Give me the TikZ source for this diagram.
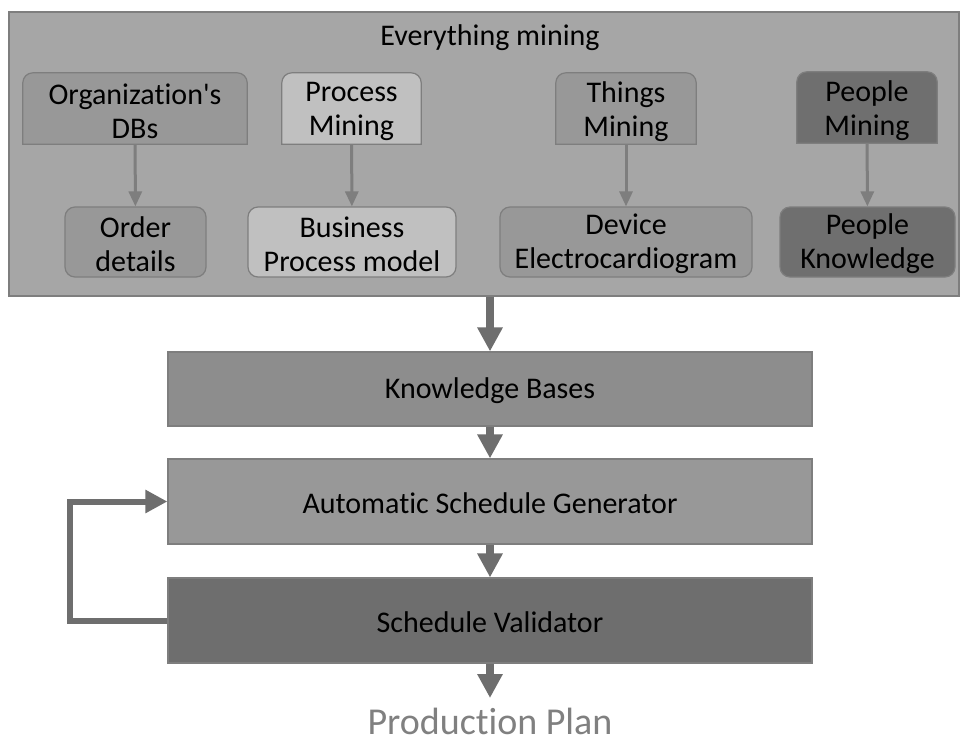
\documentclass[tikz,border=0pt]{standalone}
\usepackage{fontspec}
\setmainfont{Carlito}[Ligatures={NoCommon}]
\usetikzlibrary{arrows.meta}
\definecolor{outerfill}{HTML}{A6A6A6}
\definecolor{midfill}{HTML}{989898}
\definecolor{lightfill}{HTML}{C0C0C0}
\definecolor{darkfill}{HTML}{6F6F6F}
\definecolor{kbfill}{HTML}{8D8D8D}
\definecolor{genfill}{HTML}{989898}
\definecolor{valfill}{HTML}{6E6E6E}
\definecolor{edge}{HTML}{7E7E7E}
\definecolor{arrowgray}{HTML}{6E6E6E}
\definecolor{plangray}{HTML}{808080}
\tikzset{
  txt/.style={font=\fontsize{30}{34}\selectfont, align=center, inner sep=0pt, text=black},
  roundbox/.style={txt, draw=edge, line width=1.2pt, rounded corners=10pt},
  wide/.style={txt, draw=edge, line width=1.2pt, minimum width=644pt},
  thin/.style={draw=edge, line width=3pt, -{Triangle[length=15pt,width=13pt]}},
  thick/.style={draw=arrowgray, line width=8pt, -{Triangle[length=24pt,width=24pt]}},
  loop/.style={draw=arrowgray, line width=6pt, -{Triangle[length=22pt,width=22pt]}}
}
\newcommand{\topshape}[2]{%
  \path[fill=#2, draw=edge, line width=1.2pt] (#1.south west) [rounded corners=10pt] -- (#1.north west) -- (#1.north east) [sharp corners] -- (#1.south east) -- cycle;}
\begin{document}
\begin{tikzpicture}[x=1pt,y=-1pt]
\useasboundingbox (0,0) rectangle (960,745);
\fill[white] (0,0) rectangle (960,745);
% outer container
\node[draw=edge, fill=outerfill, line width=1.2pt, minimum width=950pt, minimum height=284pt, inner sep=0pt] (outer) at (484,154) {};
\node[txt] (title) at (490,38) {Everything mining};
% top boxes (top-rounded)
\path (135,108.5) node[minimum width=224pt, minimum height=71pt, inner sep=0pt] (org) {};
\path (351.5,108.5) node[minimum width=139pt, minimum height=71pt, inner sep=0pt] (pm) {};
\path (626,108.5) node[minimum width=140pt, minimum height=71pt, inner sep=0pt] (tm) {};
\path (867,107.5) node[minimum width=140pt, minimum height=71pt, inner sep=0pt] (peo) {};
\topshape{org}{midfill}
\topshape{pm}{lightfill}
\topshape{tm}{midfill}
\topshape{peo}{darkfill}
\node[txt, yshift=-3pt] at (org) {Organization\textquotesingle s\\DBs};
\node[txt, yshift=-3pt] at (pm) {Process\\Mining};
\node[txt, yshift=-3pt] at (tm) {Things\\Mining};
\node[txt, yshift=-3pt] at (peo) {People\\Mining};
% second row
\node[roundbox, fill=midfill, minimum width=141pt, minimum height=70pt] (od) at (135.5,242) {};
\node[roundbox, fill=lightfill, minimum width=208pt, minimum height=70pt] (bpm) at (352,242) {};
\node[roundbox, fill=midfill, minimum width=252pt, minimum height=70pt] (dev) at (626,242) {};
\node[roundbox, fill=darkfill, minimum width=175pt, minimum height=70pt] (pk) at (867.5,242) {};
\node[txt, yshift=-2pt] at (od) {Order\\details};
\node[txt, yshift=-2pt] at (bpm) {Business\\Process model};
\node[txt, yshift=-2pt] at (dev) {Device\\Electrocardiogram};
\node[txt, yshift=-2pt] at (pk) {People\\Knowledge};
\draw[thin] (org) -- (od);
\draw[thin] (pm) -- (bpm);
\draw[thin] (tm) -- (dev);
\draw[thin] (peo) -- (pk);
% lower chain
\node[wide, fill=kbfill, minimum height=74pt] (kb) at (490,389) {};
\node[wide, fill=genfill, minimum height=85pt] (gen) at (490,501.5) {};
\node[wide, fill=valfill, minimum height=85pt] (val) at (490,620.5) {};
\node[txt, yshift=-2pt] at (kb) {Knowledge Bases};
\node[txt, yshift=-2pt] at (gen) {Automatic Schedule Generator};
\node[txt, yshift=-2pt] at (val) {Schedule Validator};
\node[font=\fontsize{38}{42}\selectfont, text=plangray, inner sep=0pt] (plan) at (490,721) {Production Plan};
\coordinate (planin) at (490,698);
\draw[thick] (outer.south -| kb.north) -- (kb.north);
\draw[thick] (kb) -- (gen);
\draw[thick] (gen) -- (val);
\draw[thick] (val) -- (planin);
\coordinate (lp) at (70,0);
\draw[loop] (val.west) -- (val.west -| lp) -- (gen.west -| lp) -- (gen.west);
\end{tikzpicture}
\end{document}
